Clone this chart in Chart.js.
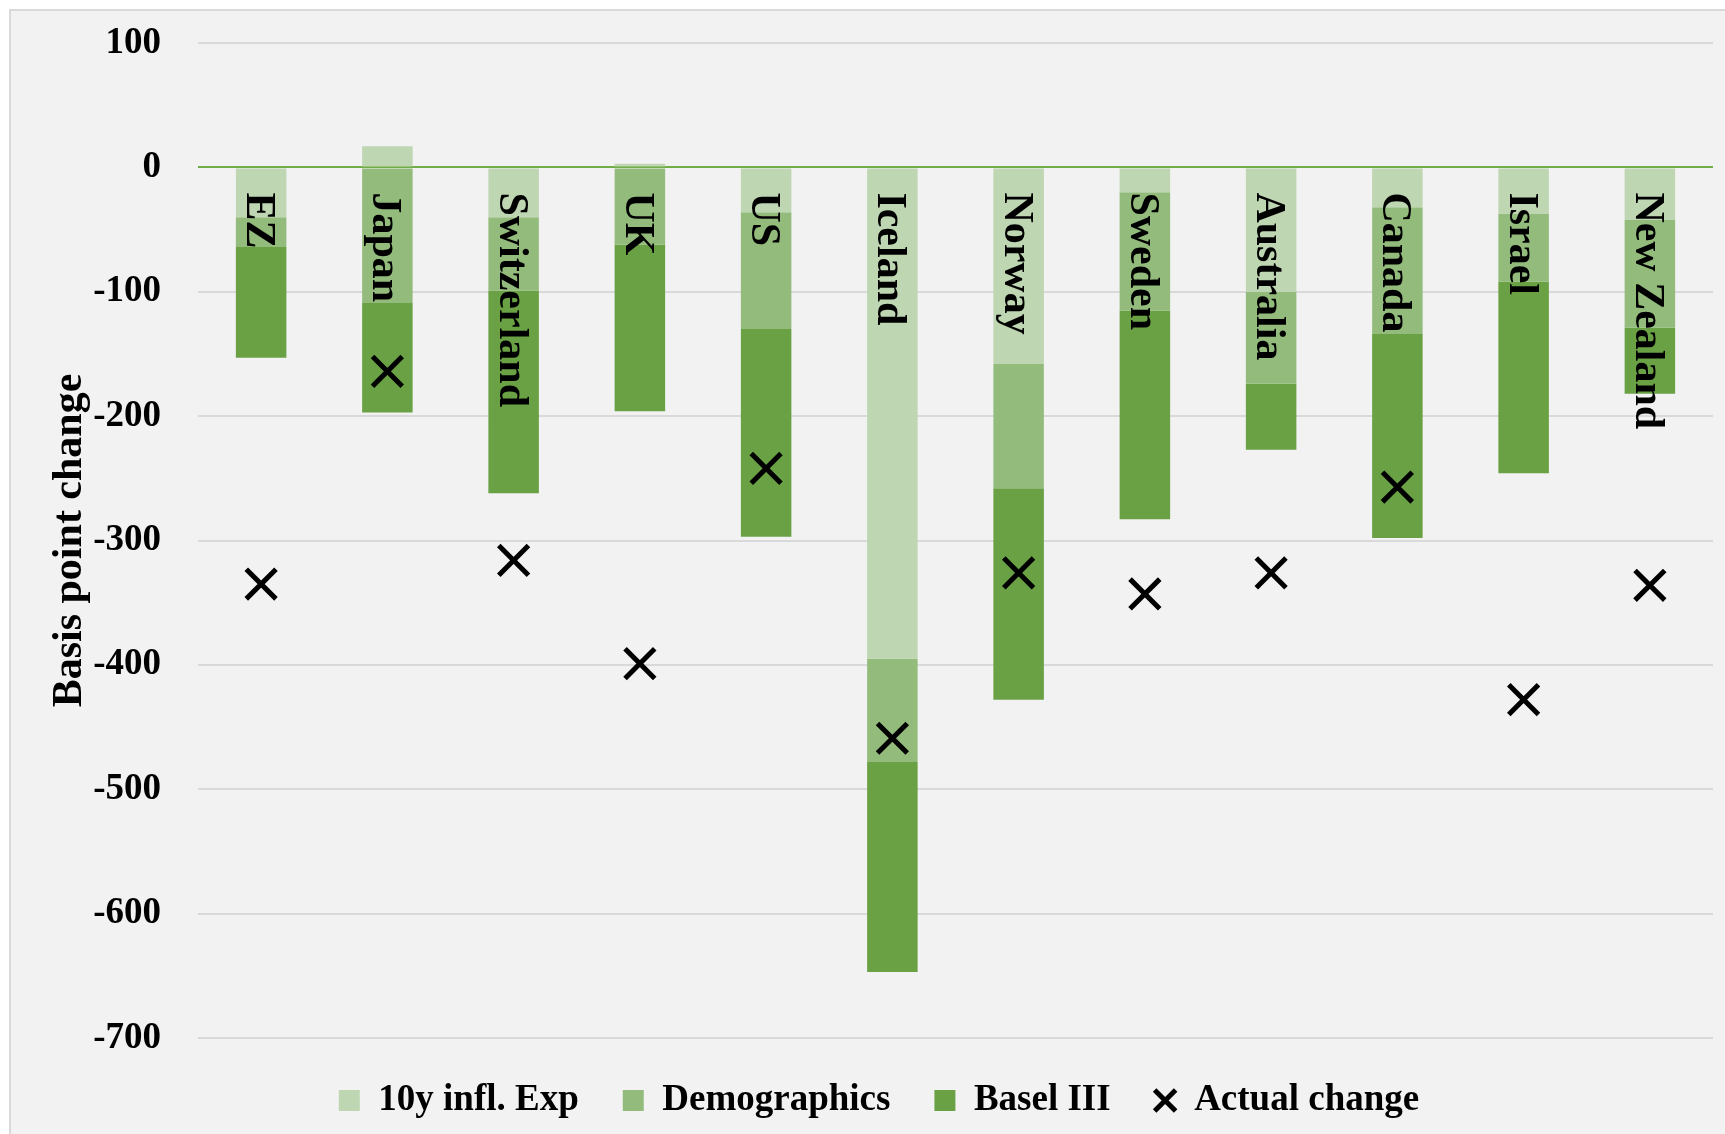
<!DOCTYPE html>
<html>
<head>
<meta charset="utf-8">
<script src="https://cdn.jsdelivr.net/npm/chart.js@4.4.1/dist/chart.umd.min.js"></script>
<style>
  html, body { margin: 0; padding: 0; background: #ffffff; overflow: hidden; }
  #frame {
    position: absolute; left: 9px; top: 9px; width: 1740px; height: 1150px;
    background: #f2f2f2; border-left: 2px solid #d9d9d9; border-top: 2px solid #d9d9d9;
  }
  #chart { position: absolute; left: 0; top: 0; }
</style>
</head>
<body>
<div id="frame"></div>
<canvas id="chart" width="1725" height="1134"></canvas>
<script>
// --- data (basis points) ---
const countries = ['EZ', 'Japan', 'Switzerland', 'UK', 'US', 'Iceland', 'Norway', 'Sweden', 'Australia', 'Canada', 'Israel', 'New Zealand'];
const inflExp = [-40, 17, -40, 3, -36, -395, -158, -20, -100, -32, -37, -42];
const demographics = [-24, -109, -59, -62, -94, -83, -100, -95, -74, -102, -55, -87];
const basel = [-89, -88, -163, -134, -167, -169, -170, -168, -53, -164, -154, -53];
const actualChange = [-335, -164, -316, -399, -242, -459, -326, -343, -326, -257, -428, -336];
const yTicks = [100, 0, -100, -200, -300, -400, -500, -600, -700];

const serif = "'Liberation Serif', 'Times New Roman', serif";

// country names written downwards inside the bars, just under the zero line
const barLabels = {
    id: 'barLabels',
    afterDatasetsDraw(chart) {
        const { ctx, scales: { x, y } } = chart;
        const top = y.getPixelForValue(0) + 25;
        ctx.save();
        ctx.font = 'bold 42px ' + serif;
        ctx.fillStyle = '#000000';
        ctx.textAlign = 'left';
        ctx.textBaseline = 'alphabetic';
        countries.forEach((name, i) => {
            ctx.save();
            ctx.translate(x.getPixelForValue(i), top);
            ctx.rotate(Math.PI / 2);
            ctx.fillText(name, 0, 14);
            ctx.restore();
        });
        ctx.restore();
    }
};

new Chart(document.getElementById('chart'), {
    data: {
        labels: countries,
        datasets: [
            { type: 'bar', label: '10y infl. Exp', data: inflExp, backgroundColor: '#bed6b2', pointStyle: 'rect', order: 1 },
            { type: 'bar', label: 'Demographics', data: demographics, backgroundColor: '#93bc7c', pointStyle: 'rect', order: 1 },
            { type: 'bar', label: 'Basel III', data: basel, backgroundColor: '#69a144', pointStyle: 'rect', order: 1 },
            {
                type: 'line', label: 'Actual change', data: actualChange, stack: 'actual',
                showLine: false, order: 0,
                pointStyle: 'crossRot', pointRadius: 21, pointHoverRadius: 21,
                pointBorderWidth: 5, pointBorderColor: '#000000', pointBackgroundColor: '#000000',
                borderColor: '#000000', backgroundColor: '#000000'
            }
        ]
    },
    options: {
        responsive: false,
        animation: false,
        events: [],
        layout: { autoPadding: false, padding: { left: 45, right: 12, top: 43, bottom: 5 } },
        datasets: { bar: { barPercentage: 0.4, categoryPercentage: 1.0 } },
        scales: {
            x: { display: false, stacked: true },
            y: {
                stacked: true,
                min: Math.min(...yTicks),
                max: Math.max(...yTicks),
                afterFit: scale => {
                    scale.width = 153;
                    scale.paddingTop = 0;
                    scale.paddingBottom = 0;
                },
                border: { display: false },
                grid: {
                    color: c => (c.tick && c.tick.value === 0 ? '#70ad47' : '#d9d9d9'),
                    lineWidth: 2,
                    drawTicks: false
                },
                ticks: {
                    stepSize: 100,
                    padding: 37,
                    color: '#000000',
                    font: { family: serif, size: 37, weight: 'bold' }
                },
                title: {
                    display: true,
                    text: 'Basis point change',
                    color: '#000000',
                    padding: { top: 0, bottom: 0 },
                    font: { family: serif, size: 42, weight: 'bold' }
                }
            }
        },
        plugins: {
            legend: {
                position: 'bottom',
                labels: {
                    usePointStyle: true,
                    boxWidth: 21,
                    boxHeight: 21,
                    padding: 44,
                    color: '#000000',
                    font: { family: serif, size: 37, weight: 'bold' },
                    sort: (a, b) => a.datasetIndex - b.datasetIndex
                }
            },
            tooltip: { enabled: false }
        }
    },
    plugins: [barLabels]
});
</script>
</body>
</html>
